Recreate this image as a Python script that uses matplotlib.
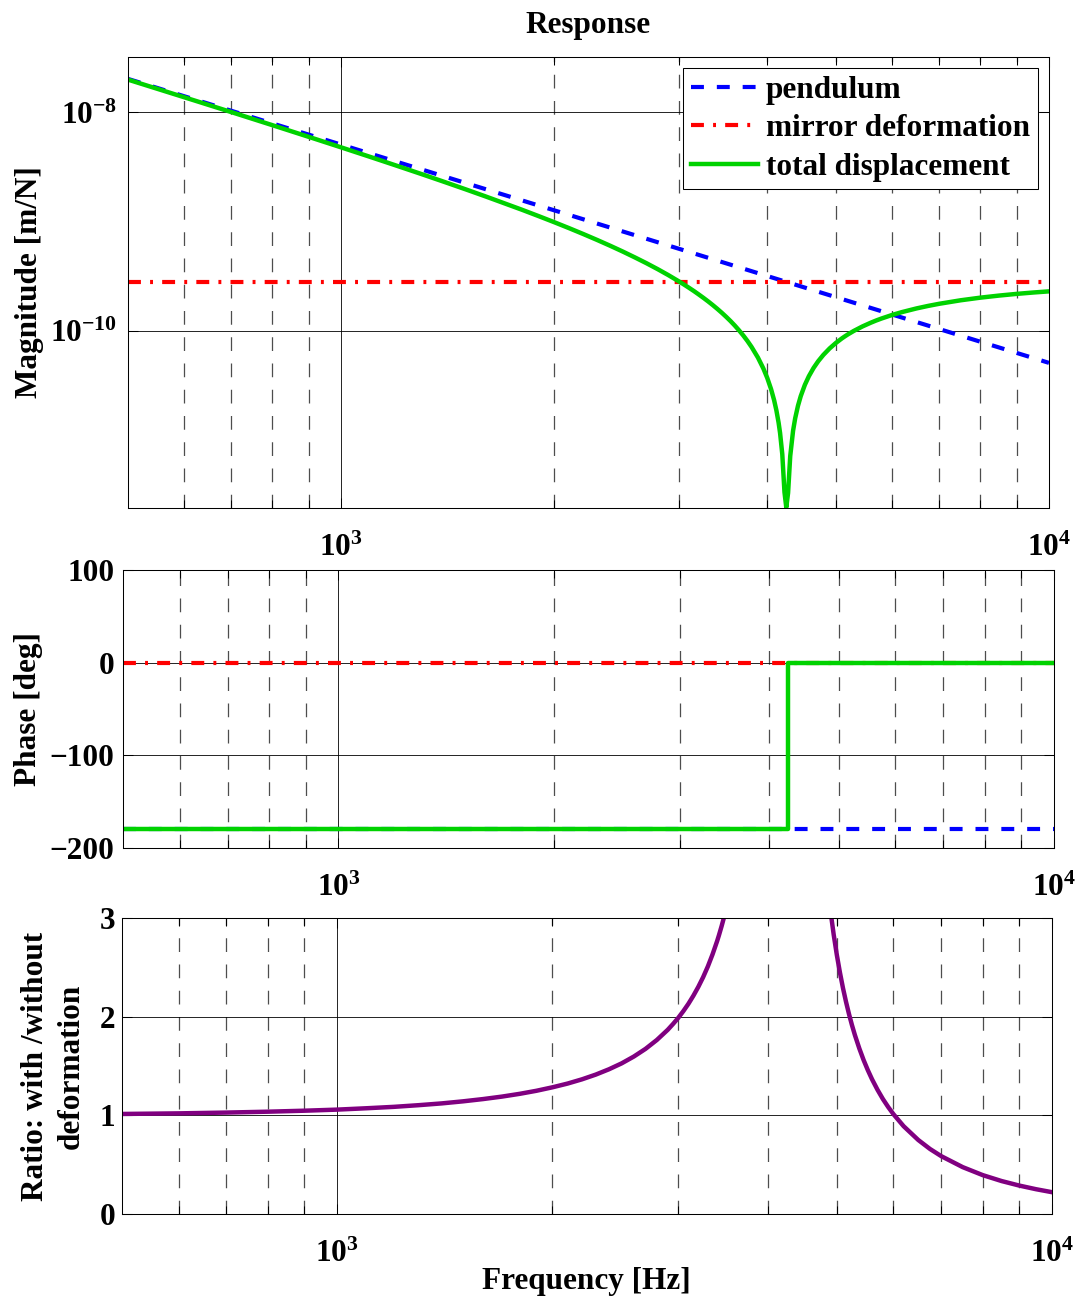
import matplotlib
matplotlib.use("Agg")
import matplotlib.pyplot as plt
from matplotlib.ticker import FixedLocator, FixedFormatter, NullLocator

# ---- data ----
# total displacement magnitude [m/N] vs frequency [Hz]
freq_mag = [500, 600, 700, 800, 900, 1000, 1100, 1200, 1300, 1400, 1500,
            1600, 1700, 1800, 1900, 2000, 2100, 2200, 2300, 2400, 2500,
            2600, 2700, 2800, 2900, 3000, 3050, 3100, 3150, 3200, 3250,
            3300, 3350, 3400, 3450, 3500, 3550, 3600, 3650, 3700, 3750,
            3800, 3880, 3950, 4000, 4050, 4090, 4120, 4150, 4170, 4200,
            4230, 4255, 4280, 4310, 4350, 4380, 4420, 4460, 4520, 4580,
            4650, 4720, 4800, 4900, 5000, 5100, 5150, 5200, 5300, 5450,
            5600, 5700, 5800, 6000, 6200, 6500, 6750, 7000, 7500, 8000,
            8500, 9000, 9500, 10000]
total_mag = [2.000e-8, 1.380e-8, 1.007e-8, 7.641e-9, 5.978e-9, 4.789e-9,
             3.910e-9, 3.240e-9, 2.720e-9, 2.306e-9, 1.973e-9, 1.700e-9,
             1.472e-9, 1.285e-9, 1.124e-9, 9.874e-10, 8.696e-10, 7.674e-10,
             6.783e-10, 6.001e-10, 5.311e-10, 4.696e-10, 4.154e-10,
             3.666e-10, 3.228e-10, 2.833e-10, 2.650e-10, 2.475e-10,
             2.310e-10, 2.150e-10, 1.999e-10, 1.855e-10, 1.717e-10,
             1.585e-10, 1.459e-10, 1.338e-10, 1.223e-10, 1.112e-10,
             1.005e-10, 9.03e-11, 8.049e-11, 7.106e-11, 5.674e-11,
             4.491e-11, 3.684e-11, 2.906e-11, 2.305e-11, 1.865e-11,
             1.435e-11, 1.153e-11, 7.381e-12, 3.319e-12, 2.4e-12,
             3.261e-12, 7.100e-12, 1.210e-11, 1.575e-11, 2.051e-11,
             2.515e-11, 3.187e-11, 3.833e-11, 4.555e-11, 5.245e-11,
             5.997e-11, 6.886e-11, 7.722e-11, 8.510e-11, 8.886e-11,
             9.253e-11, 9.953e-11, 1.093e-10, 1.183e-10, 1.240e-10,
             1.293e-10, 1.392e-10, 1.481e-10, 1.600e-10, 1.687e-10,
             1.765e-10, 1.899e-10, 2.008e-10, 2.098e-10, 2.174e-10,
             2.238e-10, 2.293e-10]

pend_freq = [500, 10000]
pend_mag = [2.03e-8, 5.07e-11]
mirror_freq = [500, 10000]
mirror_mag = [2.8e-10, 2.8e-10]

# phase [deg]
phase_freq = [500, 4255, 4255, 10000]
total_phase = [-180, -180, 0, 0]
pend_phase = [-180, -180]
mirror_phase = [0, 0]

# ratio with / without deformation (goes off scale around the notch)
ratio_freq = [500, 600, 700, 800, 900, 1000, 1100, 1200, 1300, 1400, 1500,
              1600, 1700, 1800, 1900, 2000, 2100, 2200, 2300, 2400, 2500,
              2600, 2700, 2800, 2900, 2950, 3000, 3050, 3100, 3150, 3200,
              3250, 3300, 3350, 3400, 3420, 3450, 3480, 3500,
              4900, 4950, 5000, 5050, 5100, 5150, 5200, 5250, 5300, 5375,
              5450, 5525, 5600, 5700, 5800, 5900, 6000, 6200, 6500, 6750,
              7000, 7500, 8000, 8500, 9000, 9500, 10000]
ratio = [1.014, 1.020, 1.028, 1.037, 1.047, 1.058, 1.072, 1.086, 1.103,
         1.121, 1.142, 1.165, 1.190, 1.218, 1.249, 1.284, 1.322, 1.365,
         1.413, 1.467, 1.527, 1.596, 1.674, 1.764, 1.867, 1.926, 1.988,
         2.057, 2.131, 2.213, 2.302, 2.400, 2.509, 2.631, 2.766, 2.825,
         2.919, 3.020, 3.092,
         3.066, 2.830, 2.626, 2.448, 2.290, 2.151, 2.026, 1.914, 1.813,
         1.679, 1.561, 1.458, 1.366, 1.259, 1.165, 1.084, 1.012, 0.890,
         0.750, 0.659, 0.586, 0.475, 0.394, 0.334, 0.288, 0.251, 0.221]

labels = ["pendulum", "mirror deformation", "total displacement"]
x_major = [1e3, 1e4]
x_major_labels = [r"$10^{3}$", r"$10^{4}$"]
x_minor = [600, 700, 800, 900, 2000, 3000, 4000, 5000, 6000, 7000, 8000, 9000]

plt.rcParams.update({
    "font.family": "Liberation Serif",
    "font.weight": "bold",
    "font.size": 22.5,
    "axes.labelweight": "bold",
    "axes.titleweight": "bold",
    "axes.linewidth": 0.75,
    "mathtext.fontset": "custom",
    "mathtext.rm": "Liberation Serif:bold",
    "mathtext.bf": "Liberation Serif:bold",
    "mathtext.it": "Liberation Serif:bold:italic",
    "mathtext.default": "rm",
})

BLUE = "#0000ff"
RED = "#ff0000"
GREEN = "#00d200"
PURPLE = "#800080"
dash = (0, (3.1, 3.1))
dashdot = (0, (3.1, 2.2, 0.7, 2.2))


def style_axis(ax, pad_y):
    ax.set_xscale("log")
    ax.set_xlim(500, 10000)
    ax.xaxis.set_major_locator(FixedLocator(x_major))
    ax.xaxis.set_major_formatter(FixedFormatter(x_major_labels))
    ax.xaxis.set_minor_locator(FixedLocator(x_minor))
    ax.xaxis.set_minor_formatter(FixedFormatter([""] * len(x_minor)))
    ax.grid(True, which="major", color="k", linestyle="-", linewidth=0.6)
    ax.grid(True, which="minor", axis="x", color="0.3",
            linestyle=(0, (11, 10)), linewidth=0.9)
    ax.tick_params(which="both", direction="in", top=True, right=True,
                   width=0.75)
    ax.tick_params(which="major", length=7)
    ax.tick_params(which="minor", length=5.5)
    ax.tick_params(axis="x", pad=18.5)
    ax.tick_params(axis="y", pad=pad_y)


fig = plt.figure(figsize=(10.77, 13.02), dpi=100)
ax1 = fig.add_axes([0.1188, 0.6098, 0.8552, 0.3464])
ax2 = fig.add_axes([0.1142, 0.3487, 0.8644, 0.2135])
ax3 = fig.add_axes([0.1133, 0.0676, 0.8635, 0.2273])

# magnitude
ax1.plot(pend_freq, pend_mag, color=BLUE, lw=3, linestyle=dash, label=labels[0])
ax1.plot(mirror_freq, mirror_mag, color=RED, lw=3, linestyle=dashdot, label=labels[1])
ax1.plot(freq_mag, total_mag, color=GREEN, lw=3.2, label=labels[2])
ax1.set_yscale("log")
ax1.set_ylim(2.37e-12, 3.22e-8)
style_axis(ax1, 8)
ax1.yaxis.set_major_locator(FixedLocator([1e-10, 1e-8]))
ax1.yaxis.set_major_formatter(FixedFormatter([r"$10^{-10}$", r"$10^{-8}$"]))
ax1.yaxis.set_minor_locator(NullLocator())
ax1.set_title("Response", pad=17, fontsize=22.5)
ax1.set_ylabel("Magnitude [m/N]", va="center")
ax1.yaxis.set_label_coords(-0.1064, 0.5)
leg = ax1.legend(loc="upper right", fancybox=False, edgecolor="k",
                 framealpha=1, borderaxespad=0.35, borderpad=0.25,
                 labelspacing=0.3, handlelength=2.15, handletextpad=0.25)
leg.get_frame().set_linewidth(0.75)

# phase
ax2.plot(pend_freq, pend_phase, color=BLUE, lw=3, linestyle=dash)
ax2.plot(mirror_freq, mirror_phase, color=RED, lw=3, linestyle=dashdot)
ax2.plot(phase_freq, total_phase, color=GREEN, lw=3.2)
ax2.set_ylim(-200, 100)
ax2.set_yticks([-200, -100, 0, 100])
style_axis(ax2, 6)
ax2.set_ylabel("Phase [deg]", va="center")
ax2.yaxis.set_label_coords(-0.102, 0.5)

# ratio
ax3.plot(ratio_freq, ratio, color=PURPLE, lw=3.2)
ax3.set_ylim(0, 3)
ax3.set_yticks([0, 1, 2, 3])
style_axis(ax3, 5)
ax3.set_ylabel("Ratio: with /without\ndeformation", va="center",
               linespacing=1.3)
ax3.yaxis.set_label_coords(-0.0742, 0.5)
ax3.set_xlabel("Frequency [Hz]", va="center")
ax3.xaxis.set_label_coords(0.499, -0.2297)

fig.savefig("out.png", dpi=100)
